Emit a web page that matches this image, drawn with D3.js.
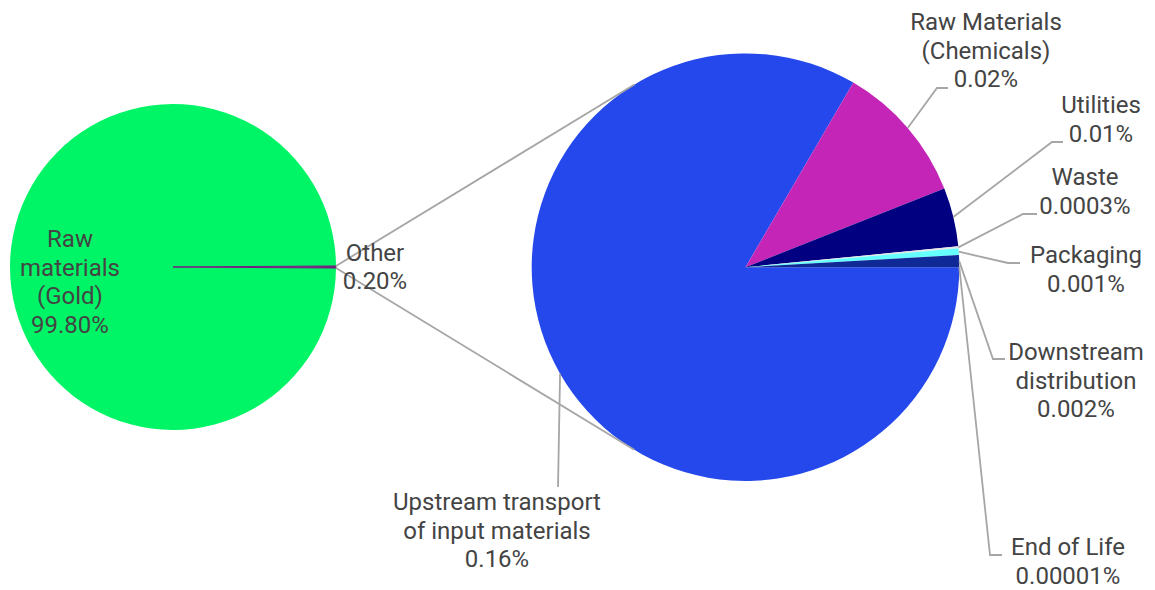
<!DOCTYPE html>
<html>
<head>
<meta charset="utf-8">
<script src="https://cdn.jsdelivr.net/npm/d3@7"></script>
<style>
  html, body { margin: 0; padding: 0; background: #fff; }
  svg { display: block; }
  text { font-family: Roboto, "Noto Sans", sans-serif; font-size: 24px; fill: #444; }
</style>
</head>
<body>
<svg id="chart" width="1155" height="590"></svg>
<script>
// ---- Data ----
const mainCategories = ["Raw materials (Gold)", "Other"];
const mainValues = [99.80, 0.20];
const mainLabels = ["99.80%", "0.20%"];

const otherCategories = ["Upstream transport of input materials", "Raw Materials (Chemicals)", "Utilities", "Waste", "Packaging", "Downstream distribution", "End of Life"];
const otherValues = [0.167, 0.0212, 0.0089, 0.0003, 0.001, 0.0018, 0.00001];
const otherLabels = ["0.16%", "0.02%", "0.01%", "0.0003%", "0.001%", "0.002%", "0.00001%"];

// ---- Styles / layout ----
const mainColors = ["#00F566", "#731F80"];
const otherColors = ["#2448EB", "#C425B6", "#000080", "#E4E4E4", "#66FFFF", "#0F2A96", "#8C8C8C"];
const lineColor = "#A6A6A6";
const lineW = 1.8;
const lineH = 28.5;

const svg = d3.select("#chart");

// Left (main) pie
const L = { cx: 173, cy: 267, r: 163 };
// Right (breakdown) pie
const R = { cx: 745.5, cy: 267.2, r: 213.8 };

const mainTotal = d3.sum(mainValues);
const otherSpan = mainValues[1] / mainTotal * 2 * Math.PI;
const mainPie = d3.pie().sort(null)
  .startAngle(Math.PI / 2 + otherSpan / 2)
  .endAngle(Math.PI / 2 + otherSpan / 2 + 2 * Math.PI);
const mainArcs = mainPie(mainValues);
const arcL = d3.arc().innerRadius(0).outerRadius(L.r);

const gL = svg.append("g").attr("transform", `translate(${L.cx},${L.cy})`);
gL.selectAll("path").data(mainArcs).join("path")
  .attr("d", arcL)
  .attr("fill", (d, i) => mainColors[i])
  .attr("stroke", (d, i) => mainColors[i])
  .attr("stroke-width", (d, i) => i === 1 ? 1 : 0);

const otherPie = d3.pie().sort(null)
  .startAngle(Math.PI / 2)
  .endAngle(Math.PI / 2 + 2 * Math.PI);
const otherArcs = otherPie(otherValues);
const arcR = d3.arc().innerRadius(0).outerRadius(R.r);

function polar(c, r, a) { // d3 angle: clockwise from 12 o'clock
  return [c.cx + r * Math.sin(a), c.cy - r * Math.cos(a)];
}
const oa = mainArcs[1];
const pTop = polar(L, L.r, oa.startAngle);
const pBot = polar(L, L.r, oa.endAngle);
function tangent(p, sign) {
  const dx = p[0] - R.cx, dy = p[1] - R.cy;
  const d = Math.hypot(dx, dy);
  const th = Math.atan2(dy, dx);
  const al = Math.acos(R.r / d);
  const t = th + sign * al;
  return [R.cx + R.r * Math.cos(t), R.cy + R.r * Math.sin(t)];
}
const tTop = [tangent(pTop, 1), tangent(pTop, -1)].sort((a, b) => a[1] - b[1])[0];
const tBot = [tangent(pBot, 1), tangent(pBot, -1)].sort((a, b) => b[1] - a[1])[0];

const gR = svg.append("g").attr("transform", `translate(${R.cx},${R.cy})`);
gR.selectAll("path").data(otherArcs).join("path")
  .attr("d", arcR)
  .attr("fill", (d, i) => otherColors[i]);

svg.append("line").attr("x1", pTop[0]).attr("y1", pTop[1]).attr("x2", tTop[0]).attr("y2", tTop[1])
  .attr("stroke", lineColor).attr("stroke-width", lineW);
svg.append("line").attr("x1", pBot[0]).attr("y1", pBot[1]).attr("x2", tBot[0]).attr("y2", tBot[1])
  .attr("stroke", lineColor).attr("stroke-width", lineW);

// Label layout for breakdown slices: leader elbow, leader end, text center x, first baseline
const otherLayout = [
  { elbow: [558, 487], end: null, tx: 497, ty: 510, lines: ["Upstream transport", "of input materials"] },
  { elbow: [937, 88], end: [948, 88], tx: 986, ty: 30, lines: ["Raw Materials", "(Chemicals)"] },
  { elbow: [1052, 142], end: [1063, 142], tx: 1101, ty: 113, lines: ["Utilities"] },
  { elbow: [1023, 214], end: [1037, 214], tx: 1085, ty: 185, lines: ["Waste"] },
  { elbow: [1008, 263], end: [1020, 263], tx: 1086, ty: 263, lines: ["Packaging"] },
  { elbow: [993, 359], end: [1005, 359], tx: 1076, ty: 360, lines: ["Downstream", "distribution"] },
  { elbow: [990, 555], end: [1002, 555], tx: 1068, ty: 555, lines: ["End of Life"] }
];

otherArcs.forEach((a, i) => {
  const lay = otherLayout[i];
  const mid = (a.startAngle + a.endAngle) / 2;
  const anchor = polar(R, R.r, mid);
  const pts = [anchor, lay.elbow];
  if (lay.end) pts.push(lay.end);
  svg.append("path")
    .attr("d", d3.line()(pts))
    .attr("fill", "none")
    .attr("stroke", lineColor)
    .attr("stroke-width", lineW);
  const t = svg.append("text").attr("text-anchor", "middle");
  lay.lines.concat([otherLabels[i]]).forEach((s, k) => {
    t.append("tspan").attr("x", lay.tx).attr("y", lay.ty + k * lineH).text(s);
  });
});

// Main pie labels
const mainLayout = [
  { tx: 70, ty: 247, lines: ["Raw", "materials", "(Gold)"] },
  { tx: 375, ty: 260.5, lines: ["Other"] }
];
mainArcs.forEach((a, i) => {
  const lay = mainLayout[i];
  const t = svg.append("text").attr("text-anchor", "middle");
  lay.lines.concat([mainLabels[i]]).forEach((s, k) => {
    t.append("tspan").attr("x", lay.tx).attr("y", lay.ty + k * lineH).text(s);
  });
});
</script>
</body>
</html>
